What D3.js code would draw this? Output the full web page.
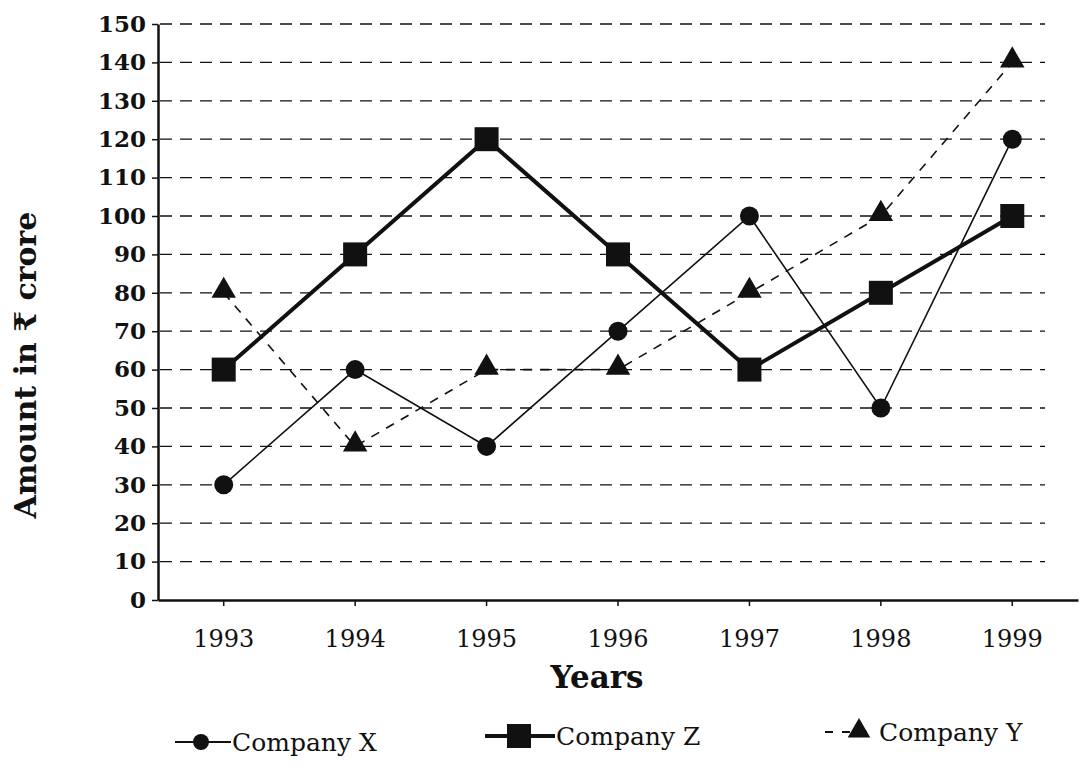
<!DOCTYPE html>
<html>
<head>
<meta charset="utf-8">
<script src="https://cdn.jsdelivr.net/npm/d3@7/dist/d3.min.js"></script>
<style>
  html, body { margin: 0; padding: 0; background: #fff; }
  svg { display: block; }
  text { font-family: "DejaVu Serif", "Liberation Serif", serif; fill: #111; }
</style>
</head>
<body>
<div id="chart"></div>
<script>
// years on the category axis
const years = ["1993", "1994", "1995", "1996", "1997", "1998", "1999"];
// amounts in crore
const companyX = [30, 60, 40, 70, 100, 50, 120];
const companyZ = [60, 90, 120, 90, 60, 80, 100];
const companyY = [80, 40, 60, 60, 80, 100, 140];
const yTicks = [0, 10, 20, 30, 40, 50, 60, 70, 80, 90, 100, 110, 120, 130, 140, 150];

const width = 1081, height = 778;

const svg = d3.select("#chart").append("svg")
  .attr("width", width)
  .attr("height", height);

const x = d3.scaleBand().domain(years).range([158, 1078]).padding(0);
const y = d3.scaleLinear().domain([0, 150]).range([600, 24]);
const cx = d => x(d) + x.bandwidth() / 2;

// dashed grid lines (not on 0, that's the axis)
svg.append("g")
  .selectAll("line")
  .data(yTicks.filter(t => t > 0))
  .join("line")
    .attr("x1", 160)
    .attr("x2", 1045)
    .attr("y1", d => y(d))
    .attr("y2", d => y(d))
    .attr("stroke", "#111")
    .attr("stroke-width", 1.3)
    .attr("stroke-dasharray", "12,8");

// y axis
const yAxis = svg.append("g")
  .attr("transform", "translate(158,0)")
  .call(d3.axisLeft(y).tickValues(yTicks).tickSize(6).tickSizeOuter(0));
yAxis.select(".domain").attr("stroke", "#111").attr("stroke-width", 2.5);
yAxis.selectAll(".tick line").attr("stroke", "#111").attr("stroke-width", 1.5);
yAxis.selectAll(".tick text")
  .attr("x", -12)
  .style("font-size", "23px")
  .style("font-weight", "bold")
  .style("font-family", "DejaVu Serif, serif")
  .attr("fill", "#111");

// x axis
const xAxis = svg.append("g")
  .attr("transform", "translate(0," + y(0) + ")")
  .call(d3.axisBottom(x).tickSize(6).tickSizeOuter(0));
xAxis.select(".domain").attr("stroke", "#111").attr("stroke-width", 2.5);
xAxis.selectAll(".tick line").attr("stroke", "#111").attr("stroke-width", 1.5);
xAxis.selectAll(".tick text")
  .attr("y", 30)
  .style("font-size", "24px")
  .style("font-family", "DejaVu Serif, serif")
  .attr("fill", "#111");

// axis titles
svg.append("text")
  .attr("transform", "translate(36,365) rotate(-90)")
  .attr("text-anchor", "middle")
  .style("font-size", "30px")
  .style("font-weight", "bold")
  .text("Amount in ₹ crore");

svg.append("text")
  .attr("x", 597)
  .attr("y", 688)
  .attr("text-anchor", "middle")
  .style("font-size", "31px")
  .style("font-weight", "bold")
  .text("Years");

const line = d3.line()
  .x((d, i) => cx(years[i]))
  .y(d => y(d));

// Company Y - dashed, triangles
svg.append("path")
  .datum(companyY)
  .attr("d", line)
  .attr("fill", "none")
  .attr("stroke", "#111")
  .attr("stroke-width", 1.6)
  .attr("stroke-dasharray", "9,8");

// Company X - thin solid, circles
svg.append("path")
  .datum(companyX)
  .attr("d", line)
  .attr("fill", "none")
  .attr("stroke", "#111")
  .attr("stroke-width", 1.6);

// Company Z - thick solid, squares
svg.append("path")
  .datum(companyZ)
  .attr("d", line)
  .attr("fill", "none")
  .attr("stroke", "#111")
  .attr("stroke-width", 4);

const sym = (type, size) => d3.symbol().type(type).size(size)();

svg.append("g").selectAll("path")
  .data(companyY)
  .join("path")
    .attr("transform", (d, i) => "translate(" + cx(years[i]) + "," + (y(d) - 2) + ")")
    .attr("d", sym(d3.symbolTriangle, 260))
    .attr("fill", "#111");

svg.append("g").selectAll("circle")
  .data(companyX)
  .join("circle")
    .attr("cx", (d, i) => cx(years[i]))
    .attr("cy", d => y(d))
    .attr("r", 9.5)
    .attr("fill", "#111");

svg.append("g").selectAll("rect")
  .data(companyZ)
  .join("rect")
    .attr("x", (d, i) => cx(years[i]) - 12)
    .attr("y", d => y(d) - 12)
    .attr("width", 24)
    .attr("height", 24)
    .attr("fill", "#111");

// legend
const legend = svg.append("g").attr("transform", "translate(0,742)");

const lx = legend.append("g").attr("transform", "translate(175,0)");
lx.append("line").attr("x1", 0).attr("x2", 56).attr("stroke", "#111").attr("stroke-width", 1.8);
lx.append("circle").attr("cx", 26).attr("r", 8).attr("fill", "#111");
lx.append("text").attr("x", 57).attr("dy", "0.35em").style("font-size", "25px").text("Company X");

const lz = legend.append("g").attr("transform", "translate(485,-6)");
lz.append("line").attr("x1", 0).attr("x2", 70).attr("stroke", "#111").attr("stroke-width", 4);
lz.append("rect").attr("x", 22).attr("y", -12).attr("width", 24).attr("height", 24).attr("fill", "#111");
lz.append("text").attr("x", 71).attr("dy", "0.35em").style("font-size", "25px").text("Company Z");

const ly = legend.append("g").attr("transform", "translate(825,-10)");
ly.append("line").attr("x1", 0).attr("x2", 50).attr("stroke", "#111").attr("stroke-width", 1.8).attr("stroke-dasharray", "8,9");
ly.append("path").attr("transform", "translate(34,-1)").attr("d", sym(d3.symbolTriangle, 220)).attr("fill", "#111");
ly.append("text").attr("x", 54).attr("dy", "0.35em").style("font-size", "25px").text("Company Y");
</script>
</body>
</html>
